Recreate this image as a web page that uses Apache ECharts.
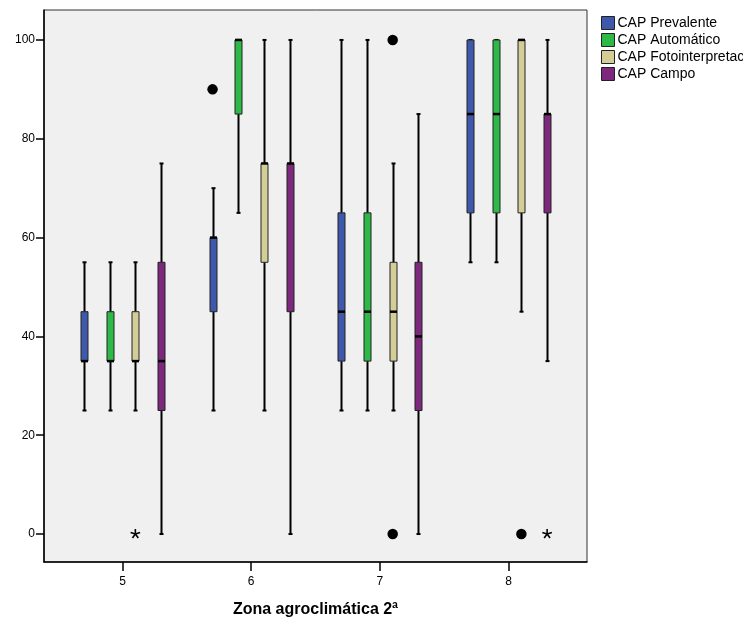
<!DOCTYPE html>
<html>
<head>
<meta charset="utf-8">
<script src="https://cdn.jsdelivr.net/npm/echarts@6/dist/echarts.min.js"></script>
<style>
  html, body { margin: 0; padding: 0; background: #fff; }
  #chart { width: 743px; height: 623px; }
</style>
</head>
<body>
<div id="chart"></div>
<script>
// zonas agroclimáticas
const zonas = [5, 6, 7, 8]
const yTicks = [0, 20, 40, 60, 80, 100]
const seriesNames = ['CAP Prevalente', 'CAP Automático', 'CAP Fotointerpretación', 'CAP Campo']
const seriesColors = ['#3E58AC', '#2EB848', '#D3CE97', '#7C287D']

// [min, q1, mediana, q3, max] por zona
const prevalente = [[25, 35, 35, 45, 55], [25, 45, 60, 60, 70], [25, 35, 45, 65, 100], [55, 65, 85, 100, 100]]
const automatico = [[25, 35, 35, 45, 55], [65, 85, 100, 100, 100], [25, 35, 45, 65, 100], [55, 65, 85, 100, 100]]
const fotointerp = [[25, 35, 35, 45, 55], [25, 55, 75, 75, 100], [25, 35, 45, 55, 75], [45, 65, 100, 100, 100]]
const campo = [[0, 25, 35, 55, 75], [0, 45, 75, 75, 100], [0, 25, 40, 55, 85], [35, 65, 85, 85, 100]]

// atípicos (círculo) y extremos (asterisco): [zona, valor]
const prevalenteAtipicos = [[6, 90]]
const fotointerpAtipicos = [[7, 100], [7, 0], [8, 0]]
const fotointerpExtremos = [[5, 0]]
const campoExtremos = [[8, 0]]

const allBoxes = [prevalente, automatico, fotointerp, campo]
const offsets = [-0.3, -0.1, 0.1, 0.3]

const chart = echarts.init(document.getElementById('chart'))

const boxRender = (offset, color) => (params, api) => {
  const x = api.value(0) + offset
  const lo = api.coord([x, api.value(1)])
  const q1 = api.coord([x, api.value(2)])
  const md = api.coord([x, api.value(3)])
  const q3 = api.coord([x, api.value(4)])
  const hi = api.coord([x, api.value(5)])
  const cx = Math.round(lo[0]) + 0.5
  const w = 7
  const lineStyle = { stroke: '#000', lineWidth: 2 }
  return {
    type: 'group',
    children: [
      { type: 'line', shape: { x1: cx, y1: hi[1], x2: cx, y2: q3[1] }, style: lineStyle },
      { type: 'line', shape: { x1: cx, y1: q1[1], x2: cx, y2: lo[1] }, style: lineStyle },
      { type: 'line', shape: { x1: cx - 2, y1: hi[1], x2: cx + 2, y2: hi[1] }, style: lineStyle },
      { type: 'line', shape: { x1: cx - 2, y1: lo[1], x2: cx + 2, y2: lo[1] }, style: lineStyle },
      {
        type: 'rect',
        shape: { x: cx - w / 2, y: q3[1], width: w, height: q1[1] - q3[1] },
        style: { fill: color, stroke: '#222', lineWidth: 1 }
      },
      { type: 'line', shape: { x1: cx - w / 2, y1: md[1], x2: cx + w / 2, y2: md[1] }, style: { stroke: '#000', lineWidth: 2.5 } }
    ]
  }
}

// asterisco de cinco brazos
const starRender = offset => (params, api) => {
  const p = api.coord([api.value(0) + offset, api.value(1)])
  const r = 5
  const arms = [0, 1, 2, 3, 4].map(k => {
    const a = -Math.PI / 2 + k * 2 * Math.PI / 5
    return {
      type: 'line',
      shape: { x1: p[0], y1: p[1], x2: p[0] + r * Math.cos(a), y2: p[1] + r * Math.sin(a) },
      style: { stroke: '#000', lineWidth: 1.6 }
    }
  })
  return { type: 'group', children: arms }
}

const series = []
allBoxes.forEach((boxes, i) => {
  series.push({
    name: seriesNames[i],
    type: 'custom',
    color: seriesColors[i],
    itemStyle: { color: seriesColors[i], borderColor: '#222', borderWidth: 1 },
    renderItem: boxRender(offsets[i], seriesColors[i]),
    encode: { x: 0, y: [1, 2, 3, 4, 5] },
    data: boxes.map((b, j) => [zonas[j], ...b])
  })
})

const circles = [
  ...prevalenteAtipicos.map(d => [d[0] + offsets[0], d[1]]),
  ...fotointerpAtipicos.map(d => [d[0] + offsets[2], d[1]])
]
series.push({
  name: 'atipicos',
  type: 'scatter',
  symbol: 'circle',
  symbolSize: 10.5,
  itemStyle: { color: '#000', opacity: 1 },
  data: circles
})
series.push({
  name: 'extremos3',
  type: 'custom',
  renderItem: starRender(offsets[2]),
  data: fotointerpExtremos
})
series.push({
  name: 'extremos4',
  type: 'custom',
  renderItem: starRender(offsets[3]),
  data: campoExtremos
})

const axisFont = { color: '#000', fontSize: 12, fontFamily: 'Liberation Sans' }

chart.setOption({
  animation: false,
  backgroundColor: '#fff',
  grid: {
    left: 44,
    right: 156,
    top: 10,
    bottom: 61,
    show: true,
    backgroundColor: '#F0F0F0',
    borderColor: '#333',
    borderWidth: 1
  },
  legend: {
    data: seriesNames,
    orient: 'vertical',
    left: 596,
    top: 11,
    itemWidth: 13,
    itemHeight: 13,
    itemGap: 3,
    icon: 'rect',
    selectedMode: false,
    itemStyle: { borderColor: '#222', borderWidth: 1 },
    textStyle: { color: '#000', fontSize: 14, fontFamily: 'Liberation Sans', padding: [0, 0, 0, -2] }
  },
  xAxis: {
    type: 'value',
    min: 4.39,
    max: 8.61,
    name: 'Zona agroclimática 2ª',
    nameLocation: 'middle',
    nameGap: 40,
    nameTextStyle: { color: '#000', fontSize: 16, fontWeight: 'bold', fontFamily: 'Liberation Sans' },
    axisLine: { show: true, onZero: false, lineStyle: { color: '#000', width: 1.5 } },
    axisTick: { show: true, length: 9, customValues: zonas, lineStyle: { color: '#000', width: 1.5 } },
    axisLabel: { customValues: zonas, margin: 14, ...axisFont },
    splitLine: { show: false }
  },
  yAxis: {
    type: 'value',
    min: -5.66,
    max: 106.06,
    axisLine: { show: true, onZero: false, lineStyle: { color: '#000', width: 1.5 } },
    axisTick: { show: true, length: 8, customValues: yTicks, lineStyle: { color: '#000', width: 1.5 } },
    axisLabel: { customValues: yTicks, margin: 9, ...axisFont },
    splitLine: { show: false }
  },
  series
})
</script>
</body>
</html>
